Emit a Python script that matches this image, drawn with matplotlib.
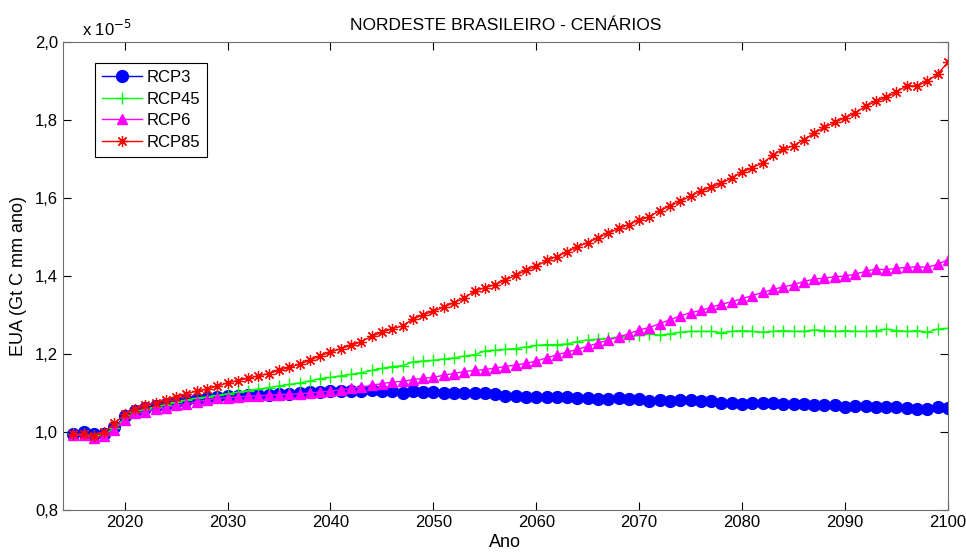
import numpy as np
import matplotlib.pyplot as plt
from matplotlib.ticker import FuncFormatter, MultipleLocator

plt.rcParams['font.family'] = ['Liberation Sans', 'DejaVu Sans']

years = np.arange(2015, 2101)

# valores em unidades de 1e-5
rcp3 = [0.995, 1.000, 0.995, 0.995, 1.012, 1.040, 1.055, 1.062, 1.066, 1.072,
        1.078, 1.082, 1.085, 1.088, 1.090, 1.092, 1.093, 1.094, 1.095, 1.096,
        1.097, 1.098, 1.100, 1.102, 1.102, 1.104, 1.105, 1.104, 1.106, 1.107,
        1.106, 1.104, 1.100, 1.104, 1.103, 1.102, 1.101, 1.100, 1.101, 1.100,
        1.101, 1.098, 1.093, 1.092, 1.091, 1.090, 1.090, 1.089, 1.091, 1.088,
        1.086, 1.084, 1.085, 1.086, 1.085, 1.084, 1.079, 1.082, 1.080, 1.081,
        1.082, 1.080, 1.079, 1.075, 1.074, 1.073, 1.074, 1.075, 1.074, 1.073,
        1.071, 1.072, 1.070, 1.070, 1.068, 1.064, 1.066, 1.067, 1.064, 1.065,
        1.063, 1.061, 1.058, 1.060, 1.064, 1.062]

rcp45 = [0.995, 0.995, 0.990, 0.993, 1.010, 1.035, 1.052, 1.058, 1.064, 1.070,
         1.076, 1.082, 1.087, 1.090, 1.094, 1.098, 1.102, 1.106, 1.110, 1.114,
         1.118, 1.122, 1.126, 1.131, 1.137, 1.140, 1.144, 1.148, 1.152, 1.158,
         1.163, 1.168, 1.170, 1.180, 1.182, 1.184, 1.187, 1.190, 1.195, 1.198,
         1.208, 1.210, 1.212, 1.214, 1.218, 1.222, 1.224, 1.224, 1.226, 1.232,
         1.236, 1.238, 1.240, 1.244, 1.246, 1.248, 1.252, 1.248, 1.252, 1.256,
         1.258, 1.258, 1.258, 1.255, 1.258, 1.260, 1.258, 1.256, 1.258, 1.260,
         1.258, 1.258, 1.262, 1.260, 1.258, 1.260, 1.258, 1.258, 1.260, 1.264,
         1.260, 1.258, 1.260, 1.256, 1.264, 1.266]

rcp6 = [0.992, 0.992, 0.985, 0.990, 1.005, 1.030, 1.048, 1.052, 1.058, 1.062,
        1.068, 1.072, 1.078, 1.082, 1.086, 1.088, 1.090, 1.092, 1.093, 1.094,
        1.096, 1.097, 1.098, 1.100, 1.102, 1.105, 1.108, 1.112, 1.115, 1.120,
        1.124, 1.128, 1.130, 1.134, 1.138, 1.140, 1.146, 1.150, 1.155, 1.158,
        1.160, 1.164, 1.168, 1.172, 1.176, 1.182, 1.190, 1.198, 1.205, 1.212,
        1.220, 1.228, 1.236, 1.244, 1.252, 1.262, 1.268, 1.278, 1.288, 1.298,
        1.306, 1.312, 1.320, 1.328, 1.334, 1.342, 1.350, 1.358, 1.366, 1.372,
        1.378, 1.386, 1.392, 1.395, 1.398, 1.400, 1.405, 1.412, 1.418, 1.416,
        1.420, 1.422, 1.424, 1.422, 1.430, 1.442]

rcp85 = [0.995, 0.995, 0.990, 1.000, 1.022, 1.045, 1.060, 1.068, 1.075, 1.082,
         1.090, 1.098, 1.105, 1.110, 1.118, 1.126, 1.132, 1.138, 1.144, 1.150,
         1.158, 1.166, 1.174, 1.184, 1.195, 1.205, 1.214, 1.222, 1.232, 1.245,
         1.256, 1.265, 1.272, 1.290, 1.300, 1.310, 1.320, 1.332, 1.343, 1.362,
         1.370, 1.378, 1.390, 1.402, 1.415, 1.425, 1.440, 1.450, 1.462, 1.475,
         1.486, 1.498, 1.510, 1.522, 1.532, 1.544, 1.552, 1.568, 1.580, 1.592,
         1.605, 1.618, 1.628, 1.638, 1.652, 1.666, 1.678, 1.690, 1.710, 1.726,
         1.734, 1.750, 1.766, 1.782, 1.794, 1.806, 1.818, 1.836, 1.848, 1.858,
         1.872, 1.888, 1.888, 1.900, 1.918, 1.948]

fig = plt.figure(figsize=(9.66, 5.53), dpi=100)
ax = fig.add_axes([0.0652, 0.0778, 0.916, 0.846])

ax.plot(years, rcp3, color='#0000ff', marker='o', ms=8.5, lw=1, label='RCP3')
ax.plot(years, rcp45, color='#00ff00', marker='+', ms=9, mew=1, lw=1, label='RCP45')
ax.plot(years, rcp6, color='#ff00ff', marker='^', ms=6.5, lw=1, label='RCP6')
ax.plot(years, rcp85, color='#ff0000', marker=(8, 2, 0), ms=8, mew=0.9, lw=1, label='RCP85')

ax.set_xlim(2014, 2100)
ax.set_ylim(0.8, 2.0)
ax.xaxis.set_major_locator(MultipleLocator(10))
ax.yaxis.set_major_locator(MultipleLocator(0.2))
ax.yaxis.set_major_formatter(FuncFormatter(lambda v, p: ('%.1f' % v).replace('.', ',')))
ax.tick_params(direction='in', top=True, right=True, length=6, labelsize=12)
for s in ax.spines.values():
    s.set_color('#6e6e6e')

ax.set_title('NORDESTE BRASILEIRO - CENÁRIOS', fontsize=12.5, pad=9)
ax.set_xlabel('Ano', fontsize=13, labelpad=3)
ax.set_ylabel('EUA (Gt C mm ano)', fontsize=13, labelpad=6)
ax.text(0.022, 1.006, r'x 10$^{-5}$', transform=ax.transAxes, fontsize=12, va='bottom')

leg = ax.legend(loc='upper left', bbox_to_anchor=(0.036, 0.955), borderaxespad=0,
                fontsize=12, fancybox=False, framealpha=1, edgecolor='black',
                handlelength=2.4, borderpad=0.4, labelspacing=0.4, handletextpad=0.3)
leg.get_frame().set_linewidth(0.8)

fig.savefig('out.png', dpi=100)
